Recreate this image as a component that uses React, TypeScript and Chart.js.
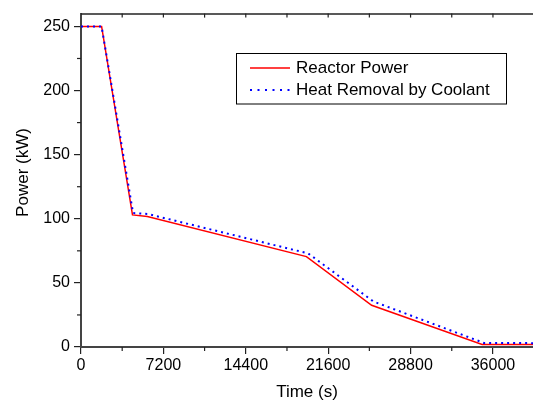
import React, { useEffect, useRef } from 'react';
import { Chart, registerables } from 'chart.js';

Chart.register(...registerables);

const reactorTime = [0, 1800, 4500, 5800, 19700, 25400, 35050, 39500];
const reactorPower = [250, 250, 103, 101.7, 70.5, 32.5, 2, 2];
const coolantTime = [0, 1800, 4550, 5800, 19850, 25550, 35200, 39500];
const coolantPower = [250, 250, 104.5, 103.8, 73, 35.5, 3.2, 3];
const xTicks = [0, 7200, 14400, 21600, 28800, 36000];
const xMinorTicks = [3600, 10800, 18000, 25200, 32400, 39600];
const yTicks = [0, 50, 100, 150, 200, 250];
const yMinorTicks = [25, 75, 125, 175, 225];
const seriesLabels = ['Reactor Power', 'Heat Removal by Coolant'];
const xTitle = 'Time (s)';
const yTitle = 'Power (kW)';

const FONT = "'Liberation Sans', Arial, sans-serif";

const framePlugin = {
  id: 'framePlugin',
  afterDraw(chart: any) {
    const ctx = chart.ctx;
    const { left, right, top, bottom } = chart.chartArea;
    const xs = chart.scales.x;
    const ys = chart.scales.y;
    ctx.save();
    ctx.strokeStyle = '#222';
    ctx.lineWidth = 1.5;
    // top border
    ctx.beginPath();
    ctx.moveTo(left, top + 0.5);
    ctx.lineTo(right, top + 0.5);
    ctx.stroke();
    ctx.lineWidth = 1.2;
    // top ticks (inward)
    [...xTicks, ...xMinorTicks].forEach((v) => {
      const px = xs.getPixelForValue(v);
      if (px <= left + 1 || px > right) return;
      ctx.beginPath();
      ctx.moveTo(px, top);
      ctx.lineTo(px, top + 4);
      ctx.stroke();
    });
    // bottom minor ticks
    xMinorTicks.forEach((v) => {
      const px = xs.getPixelForValue(v);
      if (px > right) return;
      ctx.beginPath();
      ctx.moveTo(px, bottom);
      ctx.lineTo(px, bottom + 4);
      ctx.stroke();
    });
    // left minor ticks
    yMinorTicks.forEach((v) => {
      const py = ys.getPixelForValue(v);
      ctx.beginPath();
      ctx.moveTo(left, py);
      ctx.lineTo(left - 4, py);
      ctx.stroke();
    });

    // y axis title
    ctx.save();
    ctx.translate(23.5, 172.5);
    ctx.rotate(-Math.PI / 2);
    ctx.fillStyle = '#000';
    ctx.font = `17px ${FONT}`;
    ctx.textAlign = 'center';
    ctx.textBaseline = 'middle';
    ctx.fillText(yTitle, 0, 0);
    ctx.restore();

    // legend
    const bx = 236.5, by = 53.5, bw = 270, bh = 50.5;
    ctx.strokeStyle = '#000';
    ctx.lineWidth = 1;
    ctx.strokeRect(bx, by, bw, bh);
    const rows = [68, 90];
    chart.data.datasets.forEach((ds: any, i: number) => {
      const y = rows[i];
      ctx.save();
      ctx.strokeStyle = ds.borderColor;
      ctx.lineWidth = ds.borderWidth;
      ctx.setLineDash(i === 1 ? [2, 5.5] : []);
      ctx.beginPath();
      ctx.moveTo(250, y);
      ctx.lineTo(290, y);
      ctx.stroke();
      ctx.restore();
      ctx.fillStyle = '#000';
      ctx.font = `17px ${FONT}`;
      ctx.textBaseline = 'middle';
      ctx.textAlign = 'left';
      ctx.fillText(ds.label, 296, y);
    });
    ctx.restore();
  },
};

export default function App() {
  const ref = useRef<HTMLCanvasElement | null>(null);
  useEffect(() => {
    if (!ref.current) return;
    const chart = new Chart(ref.current, {
      type: 'line',
      data: {
        datasets: [
          {
            label: seriesLabels[0],
            data: reactorTime.map((t, i) => ({ x: t, y: reactorPower[i] })),
            borderColor: '#ff0000',
            borderWidth: 1.5,
            pointRadius: 0,
            tension: 0,
            order: 1,
          },
          {
            label: seriesLabels[1],
            data: coolantTime.map((t, i) => ({ x: t, y: coolantPower[i] })),
            borderColor: '#0000ff',
            borderWidth: 2,
            borderDash: [2, 4],
            pointRadius: 0,
            tension: 0,
            order: 0,
          },
        ],
      },
      options: {
        animation: false,
        responsive: true,
        maintainAspectRatio: false,
        layout: { padding: { top: 13, right: 0, bottom: 0, left: 0 } },
        plugins: { legend: { display: false }, tooltip: { enabled: false } },
        scales: {
          x: {
            type: 'linear',
            min: 0,
            max: 39500,
            afterBuildTicks: (s: any) => {
              s.ticks = xTicks.map((v) => ({ value: v }));
            },
            afterFit: (s: any) => {
              s.height = 56;
            },
            ticks: {
              autoSkip: false,
              maxRotation: 0,
              padding: 1.5,
              color: '#000',
              font: { family: FONT, size: 16 },
              callback: (v: any) => String(v),
            },
            grid: {
              display: true,
              drawOnChartArea: false,
              drawTicks: true,
              tickLength: 7,
              color: '#222',
              lineWidth: 1.2,
            },
            border: { display: true, color: '#444', width: 2 },
            title: {
              display: true,
              text: xTitle,
              color: '#000',
              font: { family: FONT, size: 17 },
              padding: { top: 0, bottom: 0 },
            },
          },
          y: {
            type: 'linear',
            min: 0,
            max: 260,
            afterBuildTicks: (s: any) => {
              s.ticks = yTicks.map((v) => ({ value: v }));
            },
            afterFit: (s: any) => {
              s.width = 81;
            },
            ticks: {
              autoSkip: false,
              padding: 4,
              color: '#000',
              font: { family: FONT, size: 16 },
              callback: (v: any) => String(v),
            },
            grid: {
              display: true,
              drawOnChartArea: false,
              drawTicks: true,
              tickLength: 7,
              color: '#222',
              lineWidth: 1.2,
            },
            border: { display: true, color: '#444', width: 2 },
          },
        },
      },
      plugins: [framePlugin],
    });
    return () => chart.destroy();
  }, []);
  return (
    <div style={{ position: 'absolute', left: 0, top: 0, width: 533, height: 403, background: '#fff' }}>
      <canvas ref={ref} />
    </div>
  );
}
